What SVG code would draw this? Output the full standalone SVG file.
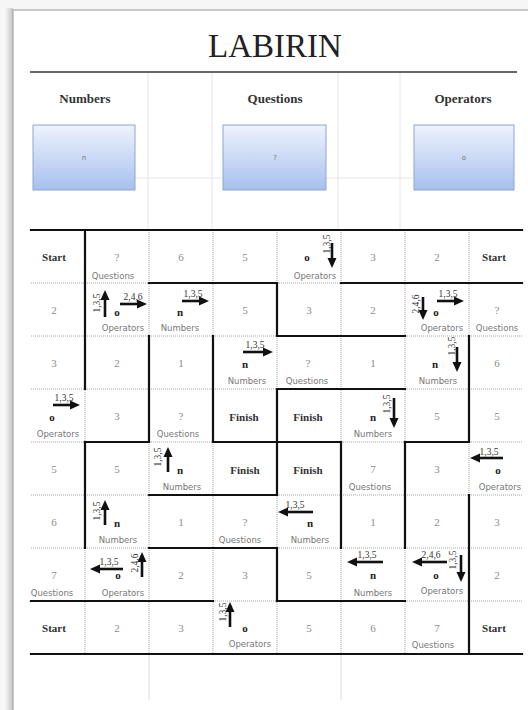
<svg xmlns="http://www.w3.org/2000/svg" width="528" height="710" viewBox="0 0 528 710">
<defs>
<linearGradient id="boxg" x1="0" y1="0" x2="0" y2="1"><stop offset="0" stop-color="#eef3fd"/><stop offset="1" stop-color="#a6c0ee"/></linearGradient>
<linearGradient id="shadow" x1="0" y1="0" x2="1" y2="0"><stop offset="0" stop-color="#f6f6f6"/><stop offset="1" stop-color="#c4c4c4"/></linearGradient>
<marker id="ah" markerUnits="userSpaceOnUse" markerWidth="10" markerHeight="10" viewBox="0 0 10 10" refX="4" refY="5" orient="auto"><path d="M0,0.5 L10,5 L0,9.5 z" fill="#111"/></marker>
<clipPath id="clipR"><rect x="0" y="0" width="522" height="710"/></clipPath>
</defs>
<style>
.num{font-family:"Liberation Serif",serif;font-size:11px;fill:#8c8c8c;text-anchor:middle}
.sym{font-family:"Liberation Serif",serif;font-size:11px;font-weight:bold;fill:#222;text-anchor:middle}
.key{font-family:"Liberation Serif",serif;font-size:11px;font-weight:bold;fill:#333;text-anchor:middle}
.lbl{font-family:"DejaVu Sans",sans-serif;font-size:8.5px;fill:#777;text-anchor:middle}
.al{font-family:"Liberation Serif",serif;font-size:9.5px;fill:#333;text-anchor:middle}
.hdr{font-family:"Liberation Serif",serif;font-size:13px;font-weight:bold;fill:#333;text-anchor:middle}
.box{fill:url(#boxg);stroke:#8ea6d2;stroke-width:1}
.boxt{font-family:"DejaVu Sans",sans-serif;font-size:7px;fill:#777;text-anchor:middle}
.faint{stroke:#e6e6e6;stroke-width:1;fill:none}
.dot{stroke:#8f8f8f;stroke-width:0.8;stroke-dasharray:1 1;fill:none}
.wall{stroke:#111;stroke-width:2.2;stroke-linecap:square;fill:none}
.arr{stroke:#111;stroke-width:2.6;marker-end:url(#ah)}
</style>

<g id="page">
<rect x="0" y="0" width="528" height="710" fill="#f6f6f6"/>
<rect x="5" y="8" width="8" height="702" fill="url(#shadow)"/>
<rect x="13" y="10" width="530" height="710" fill="#ffffff" stroke="#a8a8a8" stroke-width="1.2"/>
</g>

<g id="header">
<text x="275" y="57" font-family="Liberation Serif, serif" font-size="33" fill="#222" text-anchor="middle">LABIRIN</text>
<line x1="30" y1="72" x2="517" y2="72" stroke="#333" stroke-width="1.5"/>
<path class="faint" d="M148,73 V230 M212,73 V230 M338,73 V230 M400,73 V230 M135,178 H223 M326,178 H414"/>
<path d="M149,655 V700 M341,655 V700" stroke="#dcdcdc" stroke-width="1"/>
</g>

<g id="node-numbers">
<text class="hdr" x="85" y="103">Numbers</text>
<rect class="box" x="33" y="125" width="102" height="65"/>
<text class="boxt" x="84" y="160">n</text>
</g>
<g id="node-questions">
<text class="hdr" x="275" y="103">Questions</text>
<rect class="box" x="223" y="125" width="103" height="65"/>
<text class="boxt" x="275" y="160">?</text>
</g>
<g id="node-operators">
<text class="hdr" x="463" y="103">Operators</text>
<rect class="box" x="414" y="125" width="100" height="65"/>
<text class="boxt" x="464" y="160">o</text>
</g>

<g id="grid">
<path class="dot" d="M31,283 H522 M31,336 H522 M31,389 H522 M31,442 H522 M31,495 H522 M31,548 H522 M31,601 H522"/>
<path class="dot" d="M85,230 V654 M149,230 V654 M213,230 V654 M277,230 V654 M341,230 V654 M405,230 V654 M469,230 V654"/>
</g>

<g id="walls">
<path class="wall" d="M31,230 H522 M149,283 H277 M341,283 H522 M277,336 H405 M277,389 H405 M85,442 H149 M213,442 H341 M405,442 H469 M149,495 H277 M149,548 H277 M31,601 H213 M277,601 H405 M31,654 H522"/>
<path class="wall" d="M85,230 V389 M85,442 V548 M149,336 V442 M213,336 V442 M277,283 V336 M277,389 V495 M277,548 V601 M341,442 V548 M405,442 V548 M469,336 V442 M469,495 V654"/>
</g>

<g id="r0c0"><text class="key" x="54" y="261">Start</text></g>
<g id="r0c1"><text class="num" x="117" y="261">?</text><text class="lbl" x="113" y="279">Questions</text></g>
<g id="r0c2"><text class="num" x="181" y="261">6</text></g>
<g id="r0c3"><text class="num" x="245" y="261">5</text></g>
<g id="r0c4"><text class="sym" x="307" y="261">o</text><text class="lbl" x="315" y="279">Operators</text></g>
<g id="r0c5"><text class="num" x="373" y="261">3</text></g>
<g id="r0c6"><text class="num" x="437" y="261">2</text></g>
<g id="r0c7"><text class="key" x="494" y="261">Start</text></g>

<g id="r1c0"><text class="num" x="54" y="314">2</text></g>
<g id="r1c1"><text class="sym" x="117" y="316">o</text><text class="lbl" x="123" y="331">Operators</text></g>
<g id="r1c2"><text class="sym" x="180" y="316">n</text><text class="lbl" x="180" y="331">Numbers</text></g>
<g id="r1c3"><text class="num" x="245" y="314">5</text></g>
<g id="r1c4"><text class="num" x="309" y="314">3</text></g>
<g id="r1c5"><text class="num" x="373" y="314">2</text></g>
<g id="r1c6"><text class="sym" x="436" y="316">o</text><text class="lbl" x="442" y="331">Operators</text></g>
<g id="r1c7"><text class="num" x="497" y="314">?</text><text class="lbl" x="497" y="331">Questions</text></g>

<g id="r2c0"><text class="num" x="54" y="367">3</text></g>
<g id="r2c1"><text class="num" x="117" y="367">2</text></g>
<g id="r2c2"><text class="num" x="181" y="367">1</text></g>
<g id="r2c3"><text class="sym" x="245" y="368">n</text><text class="lbl" x="247" y="384">Numbers</text></g>
<g id="r2c4"><text class="num" x="308" y="367">?</text><text class="lbl" x="307" y="384">Questions</text></g>
<g id="r2c5"><text class="num" x="373" y="367">1</text></g>
<g id="r2c6"><text class="sym" x="435" y="368">n</text><text class="lbl" x="438" y="384">Numbers</text></g>
<g id="r2c7"><text class="num" x="497" y="367">6</text></g>

<g id="r3c0"><text class="sym" x="52" y="421">o</text><text class="lbl" x="58" y="437">Operators</text></g>
<g id="r3c1"><text class="num" x="117" y="420">3</text></g>
<g id="r3c2"><text class="num" x="181" y="420">?</text><text class="lbl" x="178" y="437">Questions</text></g>
<g id="r3c3"><text class="key" x="244" y="421">Finish</text></g>
<g id="r3c4"><text class="key" x="308" y="421">Finish</text></g>
<g id="r3c5"><text class="sym" x="373" y="421">n</text><text class="lbl" x="373" y="437">Numbers</text></g>
<g id="r3c6"><text class="num" x="437" y="420">5</text></g>
<g id="r3c7"><text class="num" x="497" y="420">5</text></g>

<g id="r4c0"><text class="num" x="54" y="473">5</text></g>
<g id="r4c1"><text class="num" x="117" y="473">5</text></g>
<g id="r4c2"><text class="sym" x="180" y="474">n</text><text class="lbl" x="182" y="490">Numbers</text></g>
<g id="r4c3"><text class="key" x="245" y="474">Finish</text></g>
<g id="r4c4"><text class="key" x="308" y="474">Finish</text></g>
<g id="r4c5"><text class="num" x="373" y="473">7</text><text class="lbl" x="370" y="490">Questions</text></g>
<g id="r4c6"><text class="num" x="437" y="473">3</text></g>
<g id="r4c7" clip-path="url(#clipR)"><text class="sym" x="498" y="474">o</text><text class="lbl" x="500" y="490">Operators</text></g>

<g id="r5c0"><text class="num" x="54" y="526">6</text></g>
<g id="r5c1"><text class="sym" x="117" y="527">n</text><text class="lbl" x="118" y="543">Numbers</text></g>
<g id="r5c2"><text class="num" x="181" y="526">1</text></g>
<g id="r5c3"><text class="num" x="245" y="526">?</text><text class="lbl" x="240" y="543">Questions</text></g>
<g id="r5c4"><text class="sym" x="310" y="527">n</text><text class="lbl" x="310" y="543">Numbers</text></g>
<g id="r5c5"><text class="num" x="373" y="526">1</text></g>
<g id="r5c6"><text class="num" x="437" y="526">2</text></g>
<g id="r5c7"><text class="num" x="497" y="526">3</text></g>

<g id="r6c0"><text class="num" x="54" y="579">7</text><text class="lbl" x="52" y="596">Questions</text></g>
<g id="r6c1"><text class="sym" x="118" y="579">o</text><text class="lbl" x="123" y="596">Operators</text></g>
<g id="r6c2"><text class="num" x="181" y="579">2</text></g>
<g id="r6c3"><text class="num" x="245" y="579">3</text></g>
<g id="r6c4"><text class="num" x="309" y="579">5</text></g>
<g id="r6c5"><text class="sym" x="373" y="579">n</text><text class="lbl" x="373" y="596">Numbers</text></g>
<g id="r6c6"><text class="sym" x="436" y="579">o</text><text class="lbl" x="442" y="594">Operators</text></g>
<g id="r6c7"><text class="num" x="497" y="579">2</text></g>

<g id="r7c0"><text class="key" x="54" y="632">Start</text></g>
<g id="r7c1"><text class="num" x="117" y="632">2</text></g>
<g id="r7c2"><text class="num" x="181" y="632">3</text></g>
<g id="r7c3"><text class="sym" x="245" y="632">o</text><text class="lbl" x="250" y="647">Operators</text></g>
<g id="r7c4"><text class="num" x="309" y="632">5</text></g>
<g id="r7c5"><text class="num" x="373" y="632">6</text></g>
<g id="r7c6"><text class="num" x="437" y="632">7</text><text class="lbl" x="433" y="648">Questions</text></g>
<g id="r7c7"><text class="key" x="494" y="632">Start</text></g>

<g id="connectors">
<line class="arr" x1="332" y1="243" x2="332" y2="262"/>
<line class="arr" x1="105" y1="317" x2="105" y2="296"/>
<line class="arr" x1="120" y1="304" x2="141" y2="304"/>
<line class="arr" x1="182" y1="301" x2="203" y2="301"/>
<line class="arr" x1="423" y1="297" x2="423" y2="314"/>
<line class="arr" x1="437" y1="301" x2="458" y2="301"/>
<line class="arr" x1="243" y1="352" x2="267" y2="352"/>
<line class="arr" x1="457" y1="347" x2="457" y2="366"/>
<line class="arr" x1="53" y1="405" x2="74" y2="405"/>
<line class="arr" x1="394" y1="398" x2="394" y2="422"/>
<line class="arr" x1="168" y1="472" x2="168" y2="453"/>
<line class="arr" x1="503" y1="458" x2="476" y2="458"/>
<line class="arr" x1="105" y1="525" x2="105" y2="506"/>
<line class="arr" x1="313" y1="512" x2="284" y2="512"/>
<line class="arr" x1="123" y1="569" x2="96" y2="569"/>
<line class="arr" x1="142" y1="577" x2="142" y2="558"/>
<line class="arr" x1="383" y1="562" x2="353" y2="562"/>
<line class="arr" x1="447" y1="562" x2="418" y2="562"/>
<line class="arr" x1="461" y1="555" x2="461" y2="576"/>
<line class="arr" x1="230" y1="627" x2="230" y2="608"/>
</g>

<g id="connector-labels">
<text class="al" transform="translate(330,244) rotate(-90)">1,3,5</text>
<text class="al" transform="translate(100,303) rotate(-90)">1,3,5</text>
<text class="al" x="133" y="300">2,4,6</text>
<text class="al" x="193" y="297">1,3,5</text>
<text class="al" transform="translate(419,304) rotate(-90)">2,4,6</text>
<text class="al" x="448" y="297">1,3,5</text>
<text class="al" x="255" y="348">1,3,5</text>
<text class="al" transform="translate(455,346) rotate(-90)">1,3,5</text>
<text class="al" x="64" y="401">1,3,5</text>
<text class="al" transform="translate(390,404) rotate(-90)">1,3,5</text>
<text class="al" transform="translate(161,457) rotate(-90)">1,3,5</text>
<text class="al" x="489" y="455">1,3,5</text>
<text class="al" transform="translate(100,511) rotate(-90)">1,3,5</text>
<text class="al" x="295" y="508">1,3,5</text>
<text class="al" x="109" y="565">1,3,5</text>
<text class="al" transform="translate(138,563) rotate(-90)">2,4,6</text>
<text class="al" x="367" y="558">1,3,5</text>
<text class="al" x="431" y="558">2,4,6</text>
<text class="al" transform="translate(456,560) rotate(-90)">1,3,5</text>
<text class="al" transform="translate(226,612) rotate(-90)">1,3,5</text>
</g>
</svg>
